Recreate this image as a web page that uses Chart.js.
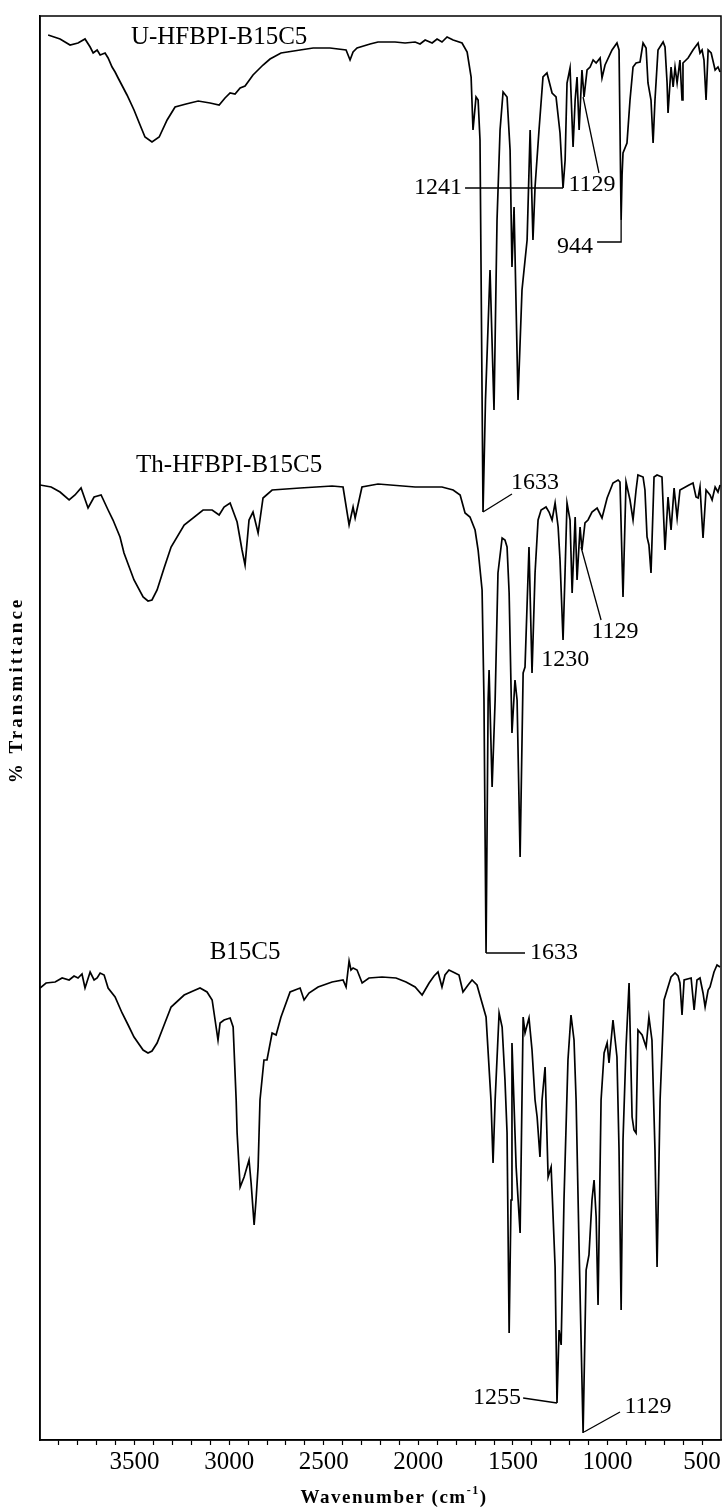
<!DOCTYPE html>
<html>
<head>
<meta charset="utf-8">
<script src="https://cdn.jsdelivr.net/npm/chart.js@4.4.0/dist/chart.umd.min.js"></script>
<style>
  html, body { margin: 0; padding: 0; background: #fff; }
  #wrap { width: 723px; height: 1509px; }
</style>
</head>
<body>
<div id="wrap"><canvas id="irChart" width="723" height="1509"></canvas></div>
<script>
// FTIR spectra, [wavenumber (cm-1), stacked transmittance]
const uHfbpiPoints = [
  [3957,140.5],[3894,140.1],[3841,139.5],[3799,139.7],[3762,140.1],[3735,139.3],[3719,138.7],[3698,139.0],[3682,138.5],[3656,138.7],
  [3640,138.2],[3619,137.3],[3603,136.8],[3587,136.2],[3540,134.5],[3503,133.0],[3471,131.5],[3445,130.3],[3408,129.8],[3370,130.3],
  [3328,132.0],[3286,133.3],[3228,133.6],[3164,133.9],[3101,133.7],[3053,133.5],[3022,134.2],[2995,134.7],[2969,134.6],[2942,135.2],
  [2916,135.4],[2874,136.5],[2821,137.5],[2784,138.1],[2726,138.7],[2625,139.0],[2556,139.2],[2467,139.2],[2382,139.0],[2361,138.0],
  [2345,138.8],[2324,139.2],[2255,139.6],[2213,139.8],[2123,139.8],[2070,139.7],[2017,139.8],[1991,139.6],[1964,140.0],[1927,139.7],
  [1901,140.1],[1875,139.8],[1848,140.3],[1816,140.0],[1769,139.7],[1742,138.8],[1721,136.3],[1711,131.0],[1695,134.3],[1684,134.0],
  [1674,130.0],[1658,92.8],[1645,104.0],[1621,117.0],[1600,103.0],[1584,122.0],[1568,131.0],[1552,134.8],[1531,134.3],
  [1515,129.0],[1505,117.3],[1494,123.3],[1473,104.0],[1452,115.0],[1425,120.0],[1409,131.0],[1394,120.0],[1383,125.3],[1362,131.0],
  [1341,136.3],[1320,136.7],[1293,134.7],[1272,134.3],[1251,130.7],[1235,125.2],[1224,128.0],[1214,135.7],[1198,137.2],[1182,129.3],
  [1171,134.0],[1161,136.3],[1150,131.0],[1135,137.0],[1124,134.3],[1108,137.0],[1092,137.3],[1076,138.0],[1060,137.7],[1039,138.2],
  [1029,136.2],[1013,137.5],[976,139.0],[950,139.7],[939,139.0],[928,122.0],[923,126.5],[918,128.7],[897,129.7],[881,134.0],
  [865,137.3],[849,137.7],[828,137.8],[812,139.7],[796,139.2],[786,135.7],[770,134.0],[759,129.7],[749,134.0],[733,139.0],
  [706,139.8],[696,139.3],[685,135.7],[680,132.7],[664,137.3],[653,135.3],[643,137.3],[632,135.7],[617,138.0],[606,134.0],
  [601,137.7],[574,138.2],[548,139.0],[521,139.7],[511,138.7],[500,139.0],[490,138.0],[479,134.0],[468,139.0],[452,138.7],
  [431,137.0],[416,137.3],[405,136.8]
];

const thHfbpiPoints = [
  [4000,95.5],[3941,95.3],[3894,94.8],[3846,94.0],[3815,94.5],[3783,95.2],[3746,93.2],[3714,94.3],[3677,94.5],[3640,93.0],
  [3614,92.0],[3577,90.3],[3556,88.7],[3503,86.0],[3455,84.3],[3429,83.9],[3408,84.0],[3381,85.0],[3344,87.2],[3307,89.3],
  [3238,91.5],[3138,93.0],[3090,93.0],[3053,92.5],[3027,93.3],[2995,93.7],[2958,91.8],[2932,89.0],[2916,87.5],[2895,92.0],
  [2874,92.8],[2847,90.7],[2821,94.2],[2773,95.0],[2625,95.2],[2456,95.4],[2398,95.3],[2366,91.5],[2345,93.3],[2334,92.2],
  [2298,95.3],[2213,95.6],[2017,95.3],[1875,95.3],[1816,95.0],[1779,94.5],[1753,92.7],[1727,92.3],[1700,91.0],[1684,89.0],
  [1663,85.0],[1653,74.0],[1642,48.7],[1631,74.0],[1626,77.0],[1610,65.3],[1594,74.0],[1579,86.7],[1557,90.2],[1542,90.0],
  [1531,89.3],[1520,84.7],[1505,70.7],[1489,76.0],[1478,74.0],[1462,58.3],[1446,76.7],[1436,77.3],[1415,89.3],[1399,76.7],
  [1383,86.7],[1367,92.0],[1351,93.0],[1325,93.3],[1309,92.8],[1293,92.0],[1277,93.7],[1261,91.3],[1251,88.0],[1235,80.0],
  [1224,87.0],[1214,93.7],[1198,92.0],[1187,84.7],[1171,92.3],[1161,86.0],[1145,91.3],[1135,89.0],[1119,91.7],[1103,92.0],
  [1082,92.8],[1055,93.2],[1029,92.2],[1002,94.2],[971,95.7],[944,96.0],[934,95.8],[918,84.3],[902,95.8],[881,94.0],
  [865,92.0],[849,95.0],[839,96.5],[812,96.3],[802,95.0],[791,90.3],[781,89.5],[770,86.7],[754,96.3],[738,96.5],
  [712,96.3],[696,89.0],[680,94.3],[664,91.0],[648,95.2],[632,92.2],[617,95.0],[569,95.5],[548,95.7],[532,94.3],
  [521,94.2],[511,95.3],[495,90.2],[479,95.0],[458,94.5],[447,94.0],[431,95.3],[416,94.8],[405,95.5]
];

const b15c5Points = [
  [4000,45.2],[3968,45.7],[3920,45.8],[3883,46.2],[3846,46.0],[3820,46.4],[3799,46.2],[3778,46.6],[3762,45.2],[3735,46.8],
  [3714,46.0],[3698,46.2],[3682,46.7],[3661,46.5],[3640,45.2],[3603,44.3],[3566,42.7],[3534,41.5],[3503,40.3],[3455,39.0],
  [3429,38.7],[3408,38.9],[3381,39.7],[3344,41.5],[3307,43.3],[3238,44.5],[3191,44.9],[3154,45.2],[3117,44.8],[3090,44.0],
  [3069,41.3],[3059,40.0],[3048,41.7],[3027,42.0],[2995,42.2],[2979,41.3],[2963,34.0],[2958,30.7],[2942,25.3],[2921,26.3],
  [2895,28.0],[2884,25.7],[2868,21.5],[2858,24.0],[2847,27.3],[2837,34.0],[2816,38.0],[2800,38.0],[2773,40.7],[2752,40.5],
  [2726,42.3],[2678,44.8],[2625,45.2],[2604,44.0],[2578,44.7],[2530,45.3],[2456,45.8],[2398,46.0],[2382,45.3],[2366,47.9],
  [2356,47.0],[2345,47.2],[2324,47.0],[2297,45.7],[2261,46.2],[2192,46.3],[2118,46.2],[2065,45.8],[2017,45.3],[1980,44.5],
  [1943,45.7],[1917,46.4],[1896,46.8],[1875,45.3],[1859,46.5],[1838,47.0],[1806,46.7],[1785,46.5],[1764,44.8],[1737,45.5],
  [1716,46.0],[1690,45.5],[1663,43.7],[1642,42.3],[1616,34.0],[1605,27.7],[1594,34.0],[1573,42.7],[1557,41.3],[1542,36.0],
  [1531,30.7],[1520,10.7],[1510,24.0],[1505,39.7],[1483,27.3],[1462,20.7],[1446,42.3],[1436,40.7],[1425,41.5],[1415,42.2],
  [1399,39.0],[1383,34.0],[1372,32.3],[1357,28.3],[1346,34.0],[1330,37.3],[1314,26.3],[1298,27.3],[1277,17.3],[1267,3.7],
  [1256,11.0],[1245,9.5],[1230,24.0],[1209,38.0],[1193,42.5],[1177,40.0],[1166,34.0],[1150,19.0],[1129,0.7],[1113,17.0],
  [1098,18.5],[1082,24.0],[1071,26.0],[1060,22.3],[1050,13.5],[1034,34.0],[1018,38.7],[1002,39.7],[992,37.7],[971,42.0],
  [950,38.3],[939,29.0],[928,13.0],[918,30.0],[902,39.3],[886,45.7],[870,32.3],[860,31.0],[849,30.7],[839,41.0],
  [817,40.5],[796,39.3],[781,42.3],[765,40.0],[749,29.0],[738,17.3],[722,34.0],[701,44.0],[664,46.3],[643,46.7],
  [627,46.4],[617,45.7],[606,42.5],[595,46.0],[558,46.2],[542,43.0],[527,46.0],[511,46.2],[495,44.7],[484,43.3],
  [468,45.0],[458,45.3],[437,46.8],[421,47.5],[405,47.3]
];

const seriesNames = ['U-HFBPI-B15C5', 'Th-HFBPI-B15C5', 'B15C5'];
const tickLabels = [3500, 3000, 2500, 2000, 1500, 1000, 500];

// where the names and peak labels sit, in data units
const nameSpots = [[3053, 140.3], [3000, 97.5], [2916, 48.8]];
const peakNotes = [
  { text: '1241', at: [1896, 125.2], line: [[1753, 125.2], [1235, 125.2]] },
  { text: '1129', at: [1082, 125.5], line: [[1045, 126.7], [1129, 134.3]] },
  { text: '944', at: [1172, 119.3], line: [[1055, 119.8], [928, 119.8], [928, 122.0]] },
  { text: '1633', at: [1383, 95.7], line: [[1658, 92.8], [1505, 94.6]] },
  { text: '1633', at: [1283, 48.7], line: [[1642, 48.7], [1436, 48.7]] },
  { text: '1230', at: [1224, 78.0], line: [] },
  { text: '1129', at: [960, 80.8], line: [[1034, 82.0], [1140, 89.3]] },
  { text: '1255', at: [1584, 4.2], line: [[1446, 4.2], [1267, 3.7]] },
  { text: '1129', at: [786, 3.3], line: [[1124, 0.8], [934, 2.8]] }
];

const SERIF = '"Liberation Serif", "Times New Roman", serif';

function toXY(points) {
  return points.map(p => ({ x: p[0], y: p[1] }));
}

function spectrum(label, points) {
  return {
    label: label,
    data: toXY(points),
    showLine: true,
    borderColor: '#000',
    borderWidth: 1.7,
    pointRadius: 0,
    tension: 0,
    fill: false
  };
}

// Draw the frame, the curve names, the peak labels and axis titles
const decorations = {
  id: 'decorations',
  afterDatasetsDraw(chart) {
    const { ctx, chartArea: a, scales: { x, y } } = chart;
    const px = v => x.getPixelForValue(v);
    const py = v => y.getPixelForValue(v);

    ctx.save();
    ctx.strokeStyle = '#000';
    ctx.fillStyle = '#000';
    ctx.lineWidth = 1.5;
    ctx.strokeRect(a.left, a.top, a.right - a.left, a.bottom - a.top);

    ctx.textAlign = 'center';
    ctx.textBaseline = 'middle';
    ctx.font = '25px ' + SERIF;
    seriesNames.forEach((name, i) => {
      ctx.fillText(name, px(nameSpots[i][0]), py(nameSpots[i][1]));
    });

    ctx.lineWidth = 1.3;
    ctx.font = '24px ' + SERIF;
    peakNotes.forEach(n => {
      if (n.line.length) {
        ctx.beginPath();
        n.line.forEach((p, i) => {
          if (i === 0) ctx.moveTo(px(p[0]), py(p[1]));
          else ctx.lineTo(px(p[0]), py(p[1]));
        });
        ctx.stroke();
      }
      ctx.fillText(n.text, px(n.at[0]), py(n.at[1]));
    });

    // x title with superscript
    ctx.letterSpacing = '1.5px';
    ctx.font = 'bold 19px ' + SERIF;
    ctx.textAlign = 'left';
    ctx.textBaseline = 'alphabetic';
    const main = 'Wavenumber (cm';
    const sup = '-1';
    const mainW = ctx.measureText(main).width;
    ctx.font = 'bold 12px ' + SERIF;
    const supW = ctx.measureText(sup).width;
    ctx.font = 'bold 19px ' + SERIF;
    const tailW = ctx.measureText(')').width;
    const tx = 394 - (mainW + supW + tailW) / 2;
    const ty = 1503;
    ctx.fillText(main, tx, ty);
    ctx.font = 'bold 12px ' + SERIF;
    ctx.fillText(sup, tx + mainW, ty - 9);
    ctx.font = 'bold 19px ' + SERIF;
    ctx.fillText(')', tx + mainW + supW, ty);

    // y title
    ctx.letterSpacing = '3px';
    ctx.translate(17, 690);
    ctx.rotate(-Math.PI / 2);
    ctx.textAlign = 'center';
    ctx.textBaseline = 'middle';
    ctx.font = 'bold 19px ' + SERIF;
    ctx.fillText('% Transmittance', 0, 0);
    ctx.restore();
  }
};

const ctx = document.getElementById('irChart').getContext('2d');
const irChart = new Chart(ctx, {
  type: 'scatter',
  data: {
    datasets: [
      spectrum(seriesNames[0], uHfbpiPoints),
      spectrum(seriesNames[1], thHfbpiPoints),
      spectrum(seriesNames[2], b15c5Points)
    ]
  },
  options: {
    responsive: false,
    animation: false,
    devicePixelRatio: 1,
    layout: { padding: { top: 16, right: 2, left: 0, bottom: 0 } },
    plugins: {
      legend: { display: false },
      tooltip: { enabled: false }
    },
    scales: {
      x: {
        type: 'linear',
        reverse: true,
        min: 400,
        max: 4000,
        afterFit: scale => { scale.height = 69; },
        afterBuildTicks: scale => {
          const t = [];
          for (let v = 500; v <= 3900; v += 100) t.push({ value: v });
          scale.ticks = t;
        },
        ticks: {
          color: '#000',
          padding: 2,
          maxRotation: 0,
          autoSkip: false,
          font: { family: SERIF, size: 25 },
          callback: v => tickLabels.includes(v) ? String(v) : ''
        },
        grid: {
          display: true,
          drawOnChartArea: false,
          drawTicks: true,
          tickLength: 5,
          tickColor: '#000',
          tickWidth: 1.2
        },
        border: { display: true, color: '#000', width: 1.5 }
      },
      y: {
        min: 0,
        max: 142.4,
        afterFit: scale => { scale.width = 40; },
        ticks: { display: false },
        grid: { display: false },
        border: { display: true, color: '#000', width: 1.5 }
      }
    }
  },
  plugins: [decorations]
});
</script>
</body>
</html>
